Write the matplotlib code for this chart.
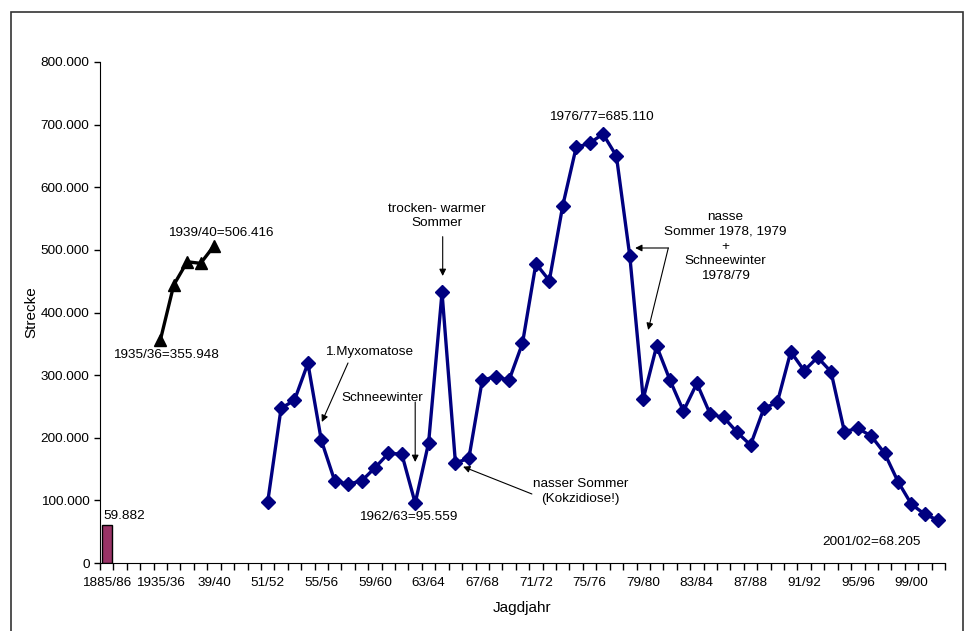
import matplotlib
matplotlib.use("Agg")
import matplotlib.pyplot as plt
from matplotlib.patches import Rectangle
from matplotlib.ticker import FuncFormatter, FixedLocator

plt.rcParams['font.family'] = ['Liberation Sans', 'DejaVu Sans']

# Jagdjahre auf der Kategorienachse (leere Felder = Lücken)
seasons_1935 = ["1935/36", "36/37", "37/38", "38/39", "39/40"]
seasons_1951 = ["%02d/%02d" % (y % 100, (y + 1) % 100) for y in range(1951, 2002)]
categories = ["1885/86", "", "", ""] + seasons_1935 + ["", "", ""] + seasons_1951

# Strecke
strecke_1885 = [59882]
strecke_1935 = [355948, 444000, 481000, 478500, 506416]
strecke_1951 = [97000, 247000, 260000, 319000, 196000, 131000, 126000, 131000,
                152000, 175000, 174000, 95559, 192000, 432000, 160000, 167000,
                292000, 297500, 292000, 351000, 478000, 451000, 570500, 663700,
                670200, 685110, 650000, 490200, 262000, 346500, 291700, 242700,
                286900, 237400, 232600, 208700, 188400, 247000, 256600, 337400,
                307100, 328400, 305500, 209700, 215100, 202800, 175100, 129800,
                93700, 77700, 68205]

x_1885 = [categories.index("1885/86")]
x_1935 = [categories.index(s) for s in seasons_1935]
x_1951 = [categories.index(s) for s in seasons_1951]

fig = plt.figure(figsize=(9.68, 6.31), dpi=100)
ax = fig.add_axes([100 / 968, 68 / 631, 845 / 968, 501 / 631])

ax.bar(x_1885, strecke_1885, width=0.75, color="#993366", edgecolor="black", linewidth=1)
ax.plot(x_1935, strecke_1935, color="black", lw=2.4, marker="^", ms=9)
ax.plot(x_1951, strecke_1951, color="#000080", lw=2.4, marker="D", ms=7.5)

ax.set_xlim(-0.5, len(categories) - 0.5)
ax.set_ylim(0, 800000)
ax.set_yticks(range(0, 800001, 100000))
ax.yaxis.set_major_formatter(FuncFormatter(lambda v, p: f"{int(v):,}".replace(",", ".")))

# Striche zwischen den Kategorien, Beschriftung jedes vierten Jahres
ax.xaxis.set_major_locator(FixedLocator([i - 0.5 for i in range(len(categories) + 1)]))
ax.xaxis.set_major_formatter(FuncFormatter(lambda v, p: ""))
ax.xaxis.set_minor_locator(FixedLocator(list(range(0, len(categories), 4))))
ax.xaxis.set_minor_formatter(FuncFormatter(lambda v, p: categories[int(round(v))]))
ax.tick_params(axis="x", which="major", direction="out", length=5, width=1)
ax.tick_params(axis="x", which="minor", length=0, labelsize=9.7, pad=10)
ax.tick_params(axis="y", direction="out", length=4, width=1, labelsize=9.7)

for side in ("top", "right"):
    ax.spines[side].set_visible(False)

ax.set_xlabel("Jagdjahr", fontsize=11, labelpad=9)
ax.set_ylabel("Strecke", fontsize=11, labelpad=2)

fs = 9.7
ls = 1.3
ax.text(1.34, 75000, "59.882", ha="center", va="center", fontsize=fs)
ax.text(4.44, 332000, "1935/36=355.948", ha="center", va="center", fontsize=fs)
ax.text(8.54, 527400, "1939/40=506.416", ha="center", va="center", fontsize=fs)
ax.text(22.46, 73900, "1962/63=95.559", ha="center", va="center", fontsize=fs)
ax.text(36.87, 711700, "1976/77=685.110", ha="center", va="center", fontsize=fs)
ax.text(57.01, 33000, "2001/02=68.205", ha="center", va="center", fontsize=fs)

arrow = dict(arrowstyle="-|>", color="black", lw=0.8, mutation_scale=10, shrinkA=0, shrinkB=0)

ax.text(19.55, 337400, "1.Myxomatose", ha="center", va="center", fontsize=fs)
ax.annotate("", xy=(16.04, 225200), xytext=(17.99, 319400), arrowprops=arrow)

ax.text(20.52, 264000, "Schneewinter", ha="center", va="center", fontsize=fs)
ax.annotate("", xy=(23.0, 161300), xytext=(23.0, 257100), arrowprops=arrow)

ax.text(24.63, 554100, "trocken- warmer\nSommer", ha="center", va="center",
        fontsize=fs, linespacing=ls)
ax.annotate("", xy=(25.05, 458300), xytext=(25.05, 521100), arrowprops=arrow)

ax.text(35.33, 114200, "nasser Sommer\n(Kokzidiose!)", ha="center", va="center",
        fontsize=fs, linespacing=ls)
ax.annotate("", xy=(26.57, 153800), xytext=(31.70, 110200), arrowprops=arrow)

ax.text(46.12, 505200, "nasse\nSommer 1978, 1979\n+\nSchneewinter\n1978/79",
        ha="center", va="center", fontsize=fs, linespacing=ls)
ax.annotate("", xy=(39.40, 503000), xytext=(41.87, 503000), arrowprops=arrow)
ax.annotate("", xy=(40.37, 372100), xytext=(41.87, 503000), arrowprops=arrow)

# Rahmen um das Diagramm
fig.patches.append(Rectangle((10.5 / 968, -0.1), 952.5 / 968, (619.5 / 631) + 0.1,
                             transform=fig.transFigure, fill=False,
                             edgecolor="#333333", lw=1.2, clip_on=False))

fig.savefig("out.png", dpi=100)
